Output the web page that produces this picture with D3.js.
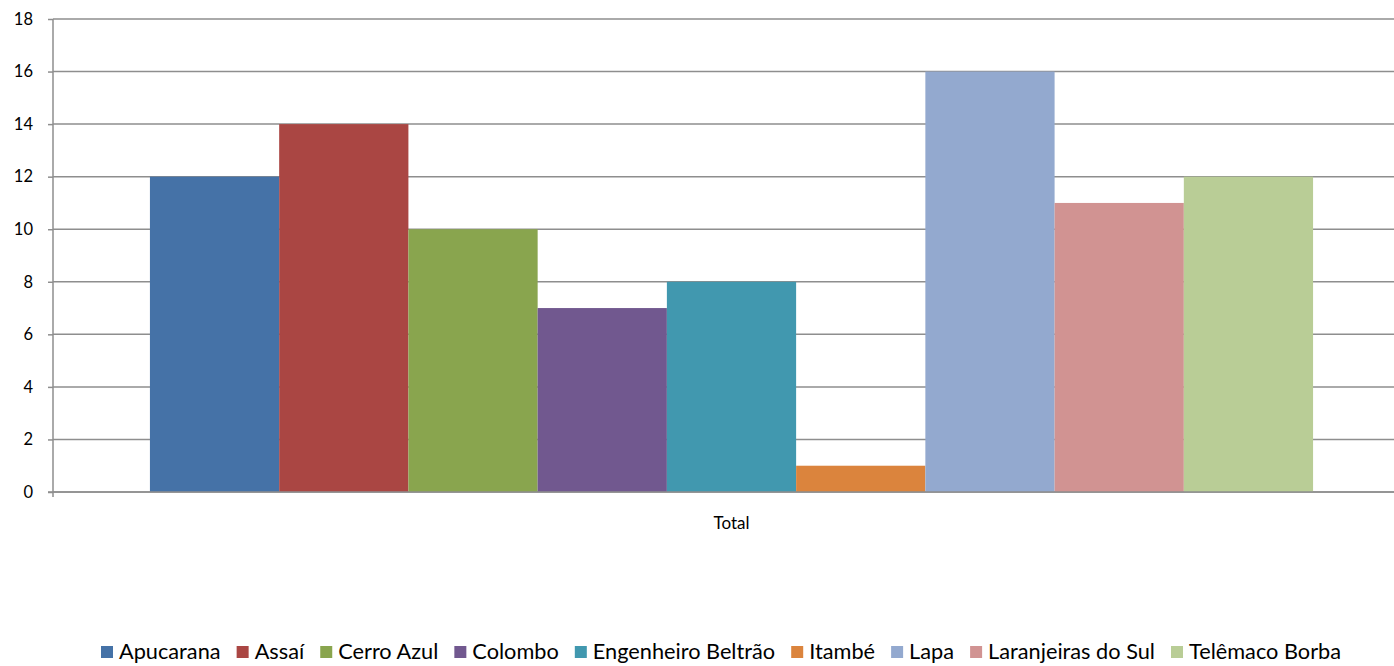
<!DOCTYPE html>
<html><head><meta charset="utf-8">
<script src="https://cdn.jsdelivr.net/npm/d3@7"></script>
<style>body{margin:0;background:#fff}svg{display:block}</style>
</head><body>
<svg id="c" width="1394" height="666"></svg>
<script>
const categories = ["Total"];
const seriesNames = ["Apucarana","Assaí","Cerro Azul","Colombo","Engenheiro Beltrão","Itambé","Lapa","Laranjeiras do Sul","Telêmaco Borba"];
const seriesValues = [12,14,10,7,8,1,16,11,12];
const seriesColors = ["#4572A7","#AA4643","#89A54E","#71588F","#4198AF","#DB843D","#93A9CF","#D19392","#B9CD96"];
const yTicks = [0,2,4,6,8,10,12,14,16,18];

(function(){
const svg = d3.select("#c");
const font = "Lato, 'Open Sans', sans-serif";
const pLeft = 53, pRight = 1410, pTop = 19, pBottom = 492;

const y = d3.scaleLinear().domain([0,18]).range([pBottom, pTop]);
const x0 = d3.scaleBand().domain(categories).range([pLeft, pRight]);
const xs = d3.scaleBand().domain(seriesNames).range([0, x0.bandwidth()]).paddingOuter(0.75).paddingInner(0);

// gridlines
svg.append("g").selectAll("line").data(yTicks).join("line")
  .attr("x1", pLeft).attr("x2", pRight)
  .attr("y1", d=>y(d)).attr("y2", d=>y(d))
  .attr("stroke", "#8e8e8e").attr("stroke-width", 1.5);

// bars
svg.append("g").selectAll("rect").data(seriesNames).join("rect")
  .attr("x", d=>x0("Total") + xs(d))
  .attr("width", xs.bandwidth())
  .attr("y", (d,i)=>y(seriesValues[i]))
  .attr("height", (d,i)=>y(0)-y(seriesValues[i]))
  .attr("fill", (d,i)=>seriesColors[i]);

// y axis
const yAxis = d3.axisLeft(y).tickValues(yTicks).tickSize(5).tickPadding(15);
const gy = svg.append("g").attr("transform", `translate(${pLeft},0)`).call(yAxis);
gy.select(".domain").attr("stroke","#8e8e8e").attr("stroke-width",1.5).attr("d", `M0,${pTop}V${pBottom}`);
gy.selectAll(".tick line").attr("stroke","#8e8e8e").attr("stroke-width",1.5);
gy.selectAll(".tick text").attr("font-family", font).attr("font-size", 16.5).attr("fill","#000");

// x axis
const xAxis = d3.axisBottom(x0).tickSize(0).tickPadding(25);
const gx = svg.append("g").attr("transform", `translate(0,${pBottom})`).call(xAxis);
gx.select(".domain").attr("stroke","#8e8e8e").attr("stroke-width",1.5).attr("d", `M${pLeft-5},0H${pRight}`);
gx.selectAll(".tick text").attr("font-family", font).attr("font-size", 17).attr("fill","#000");
svg.append("line").attr("x1",pLeft).attr("x2",pLeft).attr("y1",pBottom).attr("y2",pBottom+5).attr("stroke","#8e8e8e").attr("stroke-width",1.5);

// legend
const lg = svg.append("g");
const items = lg.selectAll("g").data(seriesNames).join("g");
items.append("rect").attr("width",12).attr("height",12).attr("y",-13).attr("fill",(d,i)=>seriesColors[i]);
const texts = items.append("text").text(d=>d).attr("x",18).attr("y",0).attr("font-family",font).attr("font-size",19).attr("fill","#000");
const legStart = 101, legEnd = 1341, wantGap = 16;
let widths = [];
texts.each(function(){ widths.push(this.getComputedTextLength()); });
const avail = legEnd - legStart - 18*seriesNames.length - wantGap*(seriesNames.length-1);
const fs = 19 * avail / d3.sum(widths);
texts.attr("font-size", fs);
widths = [];
texts.each(function(){ widths.push(this.getComputedTextLength()); });
const gap = (legEnd - legStart - d3.sum(widths) - 18*seriesNames.length) / (seriesNames.length - 1);
let cx = legStart;
items.each(function(d,i){
  d3.select(this).attr("transform", `translate(${cx},659)`);
  cx += 18 + widths[i] + gap;
});
})();
</script>
</body></html>
